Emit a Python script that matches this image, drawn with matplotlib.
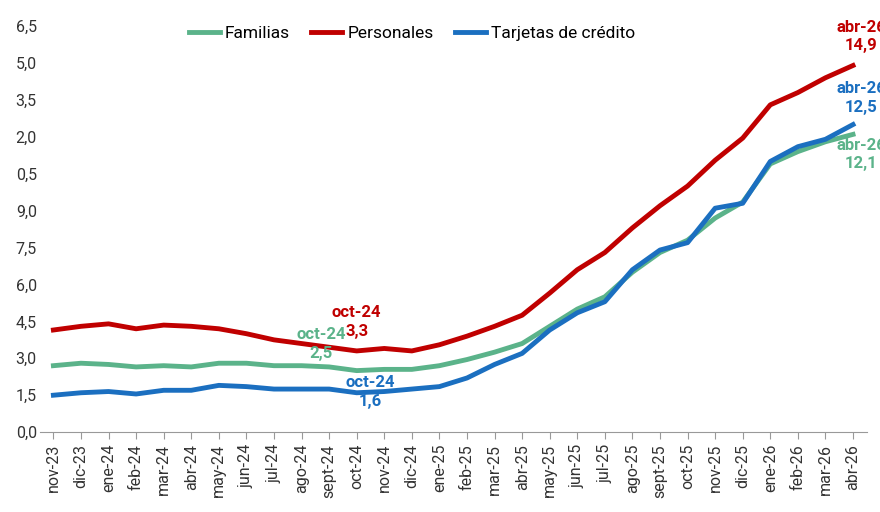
import matplotlib.pyplot as plt
import numpy as np

plt.rcParams['font.family'] = ['Roboto', 'DejaVu Sans']

months = ['nov-23', 'dic-23', 'ene-24', 'feb-24', 'mar-24', 'abr-24', 'may-24', 'jun-24',
          'jul-24', 'ago-24', 'sept-24', 'oct-24', 'nov-24', 'dic-24', 'ene-25', 'feb-25',
          'mar-25', 'abr-25', 'may-25', 'jun-25', 'jul-25', 'ago-25', 'sept-25', 'oct-25',
          'nov-25', 'dic-25', 'ene-26', 'feb-26', 'mar-26', 'abr-26']
familias = [2.7, 2.8, 2.75, 2.65, 2.7, 2.65, 2.8, 2.8, 2.7, 2.7, 2.65, 2.5, 2.55, 2.55, 2.7,
            2.95, 3.25, 3.6, 4.3, 5.0, 5.5, 6.5, 7.3, 7.8, 8.7, 9.35, 10.9, 11.4, 11.8, 12.1]
personales = [4.15, 4.3, 4.4, 4.2, 4.35, 4.3, 4.2, 4.0, 3.75, 3.6, 3.45, 3.3, 3.4, 3.3, 3.55,
              3.9, 4.3, 4.75, 5.65, 6.6, 7.3, 8.3, 9.2, 10.0, 11.05, 11.95, 13.3, 13.8, 14.4, 14.9]
tarjetas = [1.5, 1.6, 1.65, 1.55, 1.7, 1.7, 1.9, 1.85, 1.75, 1.75, 1.75, 1.6, 1.65, 1.75, 1.85,
            2.2, 2.75, 3.2, 4.15, 4.85, 5.3, 6.6, 7.4, 7.7, 9.1, 9.3, 11.0, 11.6, 11.9, 12.5]
yticks = np.arange(0, 16.6, 1.5)
# the left edge of the reference crops the leading digit of the labels
ylabels = ['0,0', '1,5', '3,0', '4,5', '6,0', '7,5', '9,0', '0,5', '2,0', '3,5', '5,0', '6,5']

green, red, blue = '#5bb38a', '#c00000', '#1b6fc0'

fig = plt.figure(figsize=(8.8, 5.12), dpi=100)
ax = fig.add_axes([0.045, 0.156, 0.94, 0.793])
x = np.arange(len(months))
ax.plot(x, familias, color=green, lw=3.5, label='Familias', solid_joinstyle='round')
ax.plot(x, personales, color=red, lw=3.5, label='Personales', solid_joinstyle='round')
ax.plot(x, tarjetas, color=blue, lw=3.5, label='Tarjetas de crédito', solid_joinstyle='round')

ax.set_xlim(-0.5, len(months) - 0.5)
ax.set_ylim(0, 16.5)
ax.set_yticks(yticks)
ax.set_yticklabels(ylabels, fontsize=11.5, color='#333333')
ax.set_xticks(x)
ax.set_xticklabels(months, rotation=90, fontsize=11.5, color='#333333')
ax.tick_params(axis='y', length=0, pad=2)
ax.tick_params(axis='x', length=5, color='#999999')
for s in ['top', 'right', 'left']:
    ax.spines[s].set_visible(False)
ax.spines['bottom'].set_color('#999999')

kw = dict(fontsize=12, fontweight='bold', ha='center', va='bottom', linespacing=1.3)
ax.text(11, 3.8, 'oct-24\n3,3', color=red, **kw)
ax.text(9.7, 2.9, 'oct-24\n2,5', color=green, **kw)
ax.text(11.5, 0.95, 'oct-24\n1,6', color=blue, **kw)
ax.text(29.3, 15.4, 'abr-26\n14,9', color=red, clip_on=False, **kw)
ax.text(29.3, 12.9, 'abr-26\n12,5', color=blue, **kw)
ax.text(29.3, 10.6, 'abr-26\n12,1', color=green, **kw)

ax.legend(loc='upper center', bbox_to_anchor=(0.45, 1.04), ncol=3, frameon=False,
          fontsize=12.5, handlelength=1.8, columnspacing=1.2, handletextpad=0.3)
fig.savefig('out.png', dpi=100)
